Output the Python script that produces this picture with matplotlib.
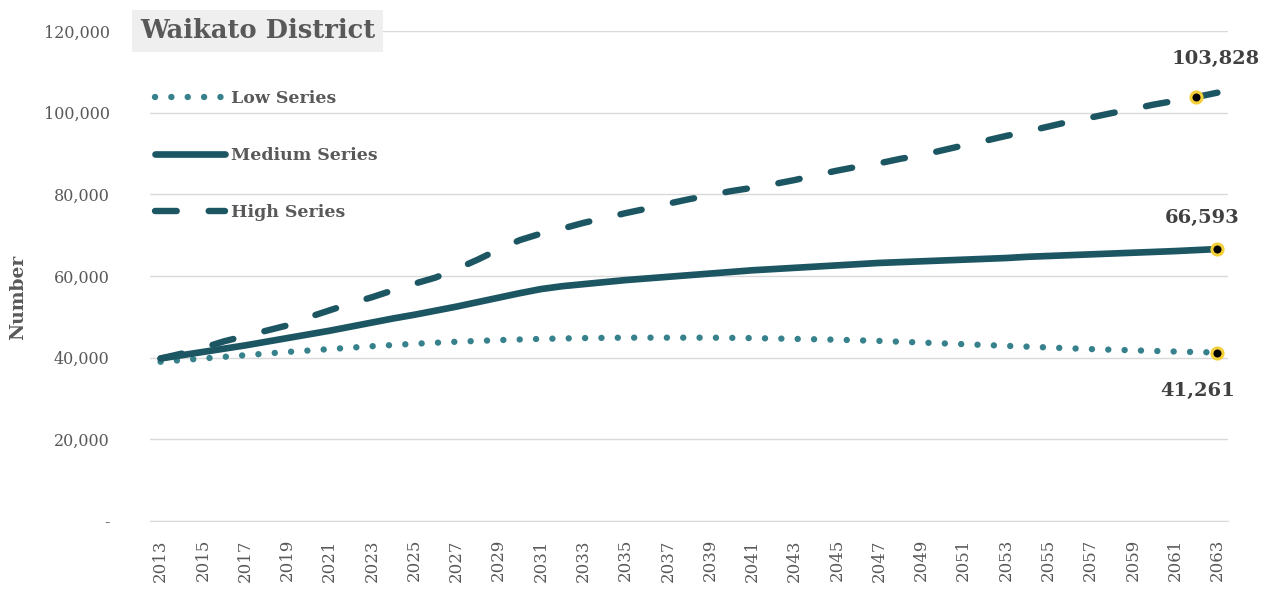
import matplotlib
matplotlib.use("Agg")
from matplotlib import pyplot as plt
from matplotlib.ticker import FuncFormatter

years = list(range(2013, 2064))

low_series = [
    39000, 39400, 39800, 40200, 40600, 41000, 41400, 41750, 42100, 42450,
    42800, 43100, 43400, 43650, 43900, 44100, 44300, 44450, 44600, 44700,
    44800, 44850, 44900, 44900, 44900, 44900, 44900, 44850, 44800, 44700,
    44600, 44500, 44400, 44250, 44100, 43900, 43700, 43500, 43300, 43100,
    42900, 42700, 42500, 42300, 42100, 41950, 41800, 41650, 41500, 41380,
    41261,
]
medium_series = [
    39800, 40600, 41400, 42200, 43000, 43900, 44800, 45700, 46600, 47600,
    48600, 49600, 50500, 51500, 52500, 53600, 54700, 55800, 56800, 57500,
    58000, 58500, 59000, 59400, 59800, 60200, 60600, 61000, 61400, 61700,
    62000, 62300, 62600, 62900, 63200, 63400, 63600, 63800, 64000, 64200,
    64400, 64700, 64900, 65100, 65300, 65500, 65700, 65900, 66100, 66350,
    66593,
]
high_series = [
    39800, 41000, 42400, 44000, 45300, 46600, 47900, 49900, 51600, 53300,
    54800, 56500, 58100, 59600, 61700, 64000, 66500, 68800, 70400, 71600,
    73000, 74200, 75400, 76500, 77700, 78800, 79800, 80800, 81600, 82500,
    83500, 84700, 85800, 86800, 87600, 88700, 89600, 90800, 92000, 93100,
    94300, 95400, 96600, 97800, 98800, 99900, 100900, 102000, 102900, 103828,
    104900,
]

# labelled points: (series, year)
labelled = [(high_series, 2062), (medium_series, 2063), (low_series, 2063)]

dark = "#1d5663"
light = "#36818c"
grey = "#595959"
serif = ["DejaVu Serif"]

fig = plt.figure(figsize=(12.74, 5.97), dpi=100)
ax = fig.add_axes([150 / 1274, 76 / 597, 1078 / 1274, 490 / 597])

x = list(range(len(years)))
ax.plot(x, low_series, color=light, lw=4.6, linestyle=(0, (0.01, 2.55)),
        dash_capstyle="round", label="Low Series", zorder=3)
ax.plot(x, medium_series, color=dark, lw=4.8, solid_capstyle="round",
        label="Medium Series", zorder=3)
ax.plot(x, high_series, color=dark, lw=4.6, linestyle=(0, (3.4, 5.0)),
        dash_capstyle="round", label="High Series", zorder=3)

# label offsets in points: dx, dy, vertical alignment
offsets = [(14, 21, "bottom"), (-11, 16, "bottom"), (-14, -21, "top")]
for (series, yr), (dx, dy, va) in zip(labelled, offsets):
    i = years.index(yr)
    v = series[i]
    ax.plot(i, v, "o", ms=8, color="black", mec="#f3cf3a", mew=2.2, zorder=5)
    ax.annotate(f"{v:,}", (i, v), xytext=(dx, dy), textcoords="offset points",
                ha="center", va=va, fontsize=14, fontweight="bold",
                color="#404040", family=serif)

ax.set_xlim(-0.5, len(years) - 0.5)
ax.set_ylim(0, 120000)
ax.set_yticks(range(0, 120001, 20000))
ax.yaxis.set_major_formatter(FuncFormatter(lambda v, p: "-" if v == 0 else f"{int(v):,}"))
ax.set_xticks(x[::2])
ax.set_xticklabels([str(y) for y in years[::2]], rotation=90)
ax.grid(axis="y", color="#d9d9d9", lw=1)
ax.set_axisbelow(True)
for s in ["top", "right", "left"]:
    ax.spines[s].set_visible(False)
ax.spines["bottom"].set_color("#d9d9d9")
ax.tick_params(length=0, colors=grey, labelsize=11.5)
ax.tick_params(axis="y", pad=29)
ax.tick_params(axis="x", pad=13, labelsize=12)
for t in ax.get_xticklabels() + ax.get_yticklabels():
    t.set_family(serif)

fig.text(18 / 1274, 300 / 597, "Number", rotation=90, ha="center", va="center",
         fontsize=13.5, fontweight="bold", color=grey, family=serif)

fig.text(140 / 1274, 1 - 31 / 597, "Waikato District", ha="left", va="center",
         fontsize=18.5, fontweight="bold", color=grey, family=serif,
         bbox=dict(boxstyle="square,pad=0.32", facecolor="#efefef", edgecolor="none"))

leg = ax.legend(loc="upper left", bbox_to_anchor=(0.005, 0.88), frameon=False,
                borderpad=0, borderaxespad=0, handlelength=4.0,
                handletextpad=0.35, labelspacing=2.3,
                prop=dict(family=serif, weight="bold", size=12.5))
for t in leg.get_texts():
    t.set_color(grey)

fig.savefig("out.png", dpi=100)
